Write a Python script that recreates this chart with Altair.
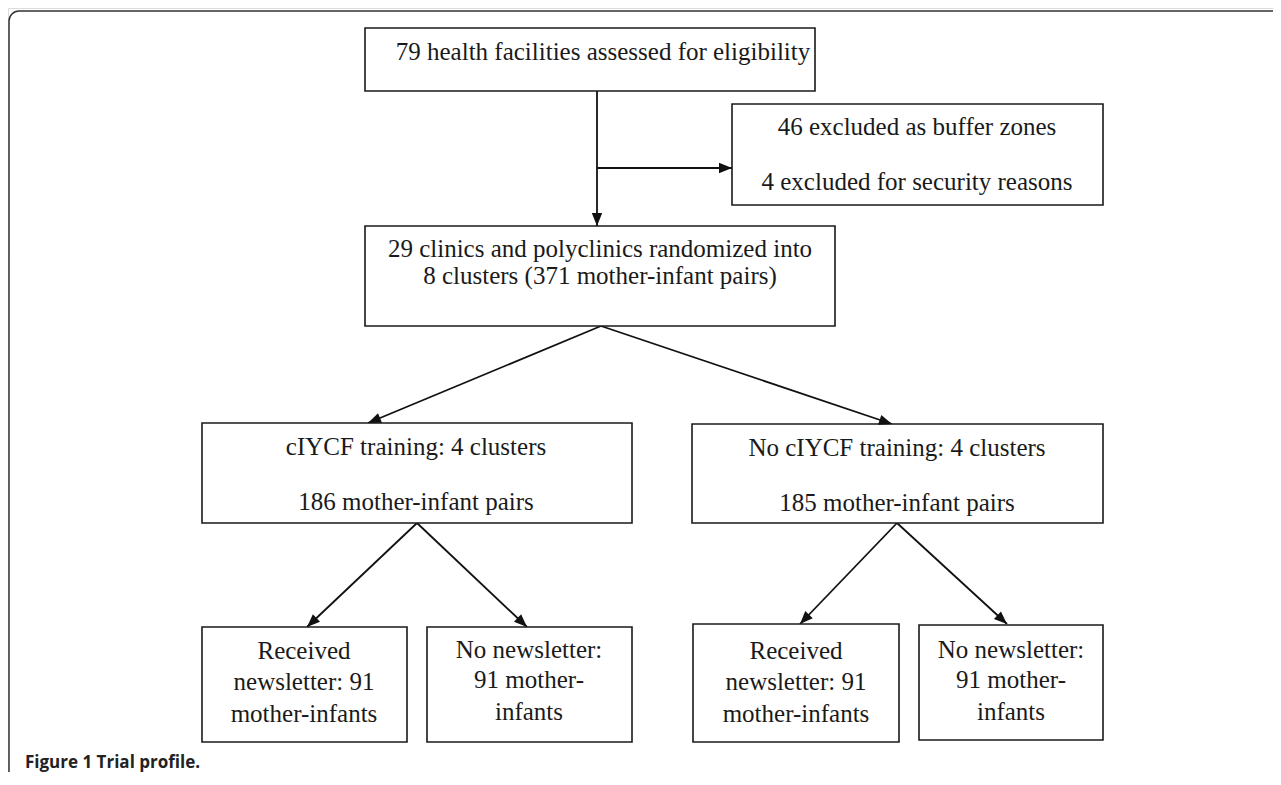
import math
import altair as alt
import pandas as pd

# ---------------- data (diagram coordinates, reference pixel space) ----------------
box_id = ["b1", "b2", "b3", "b4", "b5", "b6", "b7", "b8", "b9"]
box_left = [365, 732, 365, 202, 692, 202, 427, 693, 919]
box_right = [815, 1103, 835, 632, 1103, 407, 632, 899, 1103]
box_top = [28, 104, 226, 423, 424, 627, 627, 624, 625]
box_bottom = [91, 205, 326, 523, 523, 742, 742, 742, 740]

text_lines = [
    "79 health facilities assessed for eligibility",
    "46 excluded as buffer zones",
    "4 excluded for security reasons",
    "29 clinics and polyclinics randomized into",
    "8 clusters (371 mother-infant pairs)",
    "cIYCF training: 4 clusters",
    "186 mother-infant pairs",
    "No cIYCF training: 4 clusters",
    "185 mother-infant pairs",
    "Received", "newsletter: 91", "mother-infants",
    "No newsletter:", "91 mother-", "infants",
    "Received", "newsletter: 91", "mother-infants",
    "No newsletter:", "91 mother-", "infants",
]
text_x = [603, 917, 917, 600, 600, 416, 416, 897, 897,
          304, 304, 304, 529, 529, 529, 796, 796, 796, 1011, 1011, 1011]
text_y = [52, 127, 182, 249, 276, 447, 502, 448, 503,
          651, 682, 714, 650, 680, 712, 651, 682, 714, 650, 680, 712]

arrow_x1 = [597, 597, 601, 601, 417, 417, 897, 897]
arrow_y1 = [91, 168, 326, 326, 523, 523, 523, 523]
arrow_x2 = [597, 732, 368, 892, 307, 527, 800, 1007]
arrow_y2 = [226, 168, 423, 424, 627, 627, 624, 624]

caption = ["Figure 1 Trial profile."]

# ---------------- tables ----------------
W, H = 1265, 764
xs = alt.Scale(domain=[8, 8 + W], nice=False, zero=False)
ys = alt.Scale(domain=[8, 8 + H], nice=False, zero=False, reverse=True)

boxes = pd.DataFrame({"id": box_id, "x": box_left, "x2": box_right,
                      "y": box_top, "y2": box_bottom})
texts = pd.DataFrame({"t": text_lines, "x": text_x, "y": text_y})
arrows = pd.DataFrame({"x": arrow_x1, "y": arrow_y1, "x2": arrow_x2, "y2": arrow_y2})
arrows["angle"] = [
    (math.degrees(math.atan2(bx - ax, -(by - ay))) + 360) % 360
    for ax, ay, bx, by in zip(arrow_x1, arrow_y1, arrow_x2, arrow_y2)
]
frame = pd.DataFrame({"x": [9], "x2": [1500], "y": [11], "y2": [1000]})
cap = pd.DataFrame({"t": caption, "x": [25], "y": [763]})

ax_none = dict(axis=None)

frame_layer = alt.Chart(frame).mark_rect(
    fill="white", fillOpacity=0, stroke="#333333", strokeWidth=1.5, cornerRadius=10
).encode(
    x=alt.X("x:Q", scale=xs, **ax_none), x2="x2:Q",
    y=alt.Y("y:Q", scale=ys, **ax_none), y2="y2:Q",
)

box_layer = alt.Chart(boxes).mark_rect(
    fill="white", stroke="#1a1a1a", strokeWidth=1.6
).encode(
    x=alt.X("x:Q", scale=xs, **ax_none), x2="x2:Q",
    y=alt.Y("y:Q", scale=ys, **ax_none), y2="y2:Q",
)

line_layer = alt.Chart(arrows).mark_rule(stroke="#111111", strokeWidth=1.8).encode(
    x=alt.X("x:Q", scale=xs, **ax_none), x2="x2:Q",
    y=alt.Y("y:Q", scale=ys, **ax_none), y2="y2:Q",
)

head_layer = alt.Chart(arrows).mark_point(
    shape="M0,0 L-0.8,2 L0.8,2 Z", filled=True, fill="#111111",
    size=169, strokeWidth=0, opacity=1
).encode(
    x=alt.X("x2:Q", scale=xs, **ax_none),
    y=alt.Y("y2:Q", scale=ys, **ax_none),
    angle=alt.Angle("angle:Q", scale=None),
)

text_layer = alt.Chart(texts).mark_text(
    font="Liberation Serif", fontSize=25, color="#1a1a1a",
    align="center", baseline="middle"
).encode(
    x=alt.X("x:Q", scale=xs, **ax_none),
    y=alt.Y("y:Q", scale=ys, **ax_none),
    text="t:N",
)

cap_layer = alt.Chart(cap).mark_text(
    font="Open Sans", fontWeight="bold", fontSize=17, color="#222222",
    align="left", baseline="middle"
).encode(
    x=alt.X("x:Q", scale=xs, **ax_none),
    y=alt.Y("y:Q", scale=ys, **ax_none),
    text="t:N",
)

chart = alt.layer(
    frame_layer, line_layer, box_layer, head_layer, text_layer, cap_layer
).properties(
    width=W, height=H, padding=0, autosize=alt.AutoSizeParams(type="none")
).configure_view(stroke=None).configure(background="white")

chart.save("out.html", embed_options={"renderer": "svg", "actions": False})
